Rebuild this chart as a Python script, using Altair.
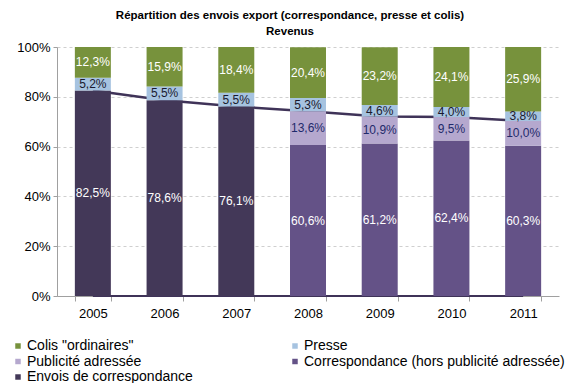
import altair as alt
import pandas as pd

years = ["2005", "2006", "2007", "2008", "2009", "2010", "2011"]
series = ["Colis \"ordinaires\"", "Presse", "Publicité adressée",
          "Correspondance (hors publicité adressée)", "Envois de correspondance"]
colors = ["#77923C", "#A6C3E0", "#B5A8CE", "#645287", "#433858"]
label_colors = ["white", "#1a1a2e", "#1F2A6B", "white", "white"]
legend_order = [0, 2, 4, 1, 3]

colis = [12.3, 15.9, 18.4, 20.4, 23.2, 24.1, 25.9]
presse = [5.2, 5.5, 5.5, 5.3, 4.6, 4.0, 3.8]
publicite = [None, None, None, 13.6, 10.9, 9.5, 10.0]
correspondance = [None, None, None, 60.6, 61.2, 62.4, 60.3]
envois = [82.5, 78.6, 76.1, None, None, None, None]
total_corr = [82.5, 78.6, 76.1, 74.2, 72.1, 71.9, 70.3]
zero_line = [0, 0, 0, 0, 0, 0, 0]

# stacking order bottom -> top
stack_order = [4, 3, 2, 1, 0]
vals = [colis, presse, publicite, correspondance, envois]

rows = []
for i, y in enumerate(years):
    base = 0.0
    for k in stack_order:
        v = vals[k][i]
        if v is None:
            continue
        rows.append({
            "year": y, "series": series[k],
            "y0": base / 100, "y1": (base + v) / 100, "mid": (base + v / 2) / 100,
            "label": f"{v:.1f}%".replace(".", ","), "lc": label_colors[k],
        })
        base += v
df = pd.DataFrame(rows)
line_df = pd.DataFrame({"year": years, "v": [t / 100 for t in total_corr],
                        "z": [z / 100 for z in zero_line]})

FONT = "Liberation Sans"
xenc = alt.X("year:N", title=None, sort=years,
             scale=alt.Scale(paddingInner=0.5, paddingOuter=0.25),
             axis=alt.Axis(labelAngle=0, labelFontSize=13, labelFont=FONT, labelColor="#000",
                           domainColor="#A0A0A0", tickColor="#A0A0A0", tickBand="extent",
                           tickSize=5, labelPadding=6, grid=False))
yscale = alt.Scale(domain=[0, 1], nice=False)

lines = alt.Chart(line_df).mark_line(color="#3F3358", strokeWidth=2.5).encode(
    x=xenc,
    y=alt.Y("v:Q", scale=yscale, title=None,
            axis=alt.Axis(format=".0%", values=[0, 0.2, 0.4, 0.6, 0.8, 1.0], labelFontSize=13,
                          labelFont=FONT, labelColor="#000", domainColor="#A0A0A0",
                          tickColor="#A0A0A0", tickSize=4, labelPadding=3,
                          gridColor="#CFCFCF", gridDash=[3, 3])),
)
zline = alt.Chart(line_df).mark_line(color="#3F3358", strokeWidth=2).encode(
    x=alt.X("year:N", sort=years), y=alt.Y("z:Q", scale=yscale))

bars = alt.Chart(df).mark_bar(size=36).encode(
    x=alt.X("year:N", sort=years),
    y=alt.Y("y0:Q", scale=yscale),
    y2="y1:Q",
    color=alt.Color("series:N",
                    scale=alt.Scale(domain=[series[k] for k in legend_order],
                                    range=[colors[k] for k in legend_order]),
                    legend=alt.Legend(title=None, orient="none", legendX=-46, legendY=292,
                                      columns=2, columnPadding=95, rowPadding=1.5,
                                      symbolType="square", symbolSize=30, symbolStrokeWidth=0,
                                      labelOffset=2, labelFontSize=14, labelFont=FONT,
                                      labelColor="#000", labelLimit=400)),
)
texts = alt.Chart(df).mark_text(fontSize=12, font=FONT).encode(
    x=alt.X("year:N", sort=years),
    y=alt.Y("mid:Q", scale=yscale),
    text="label:N",
    color=alt.Color("lc:N", scale=None),
)

chart = alt.layer(lines, zline, bars, texts).properties(
    width=502, height=249,
    autosize=alt.AutoSizeParams(type="none"),
    padding={"left": 49, "top": 39, "right": 10, "bottom": 87},
    title=alt.TitleParams(["Répartition des envois export (correspondance, presse et colis)", "Revenus"],
                          font=FONT, fontSize=11.5, fontWeight="bold", color="#000",
                          anchor="middle", dx=-18, offset=4, lineHeight=16),
).configure_view(stroke=None)

chart.save("out.html", embed_options={"renderer": "svg", "actions": False})
